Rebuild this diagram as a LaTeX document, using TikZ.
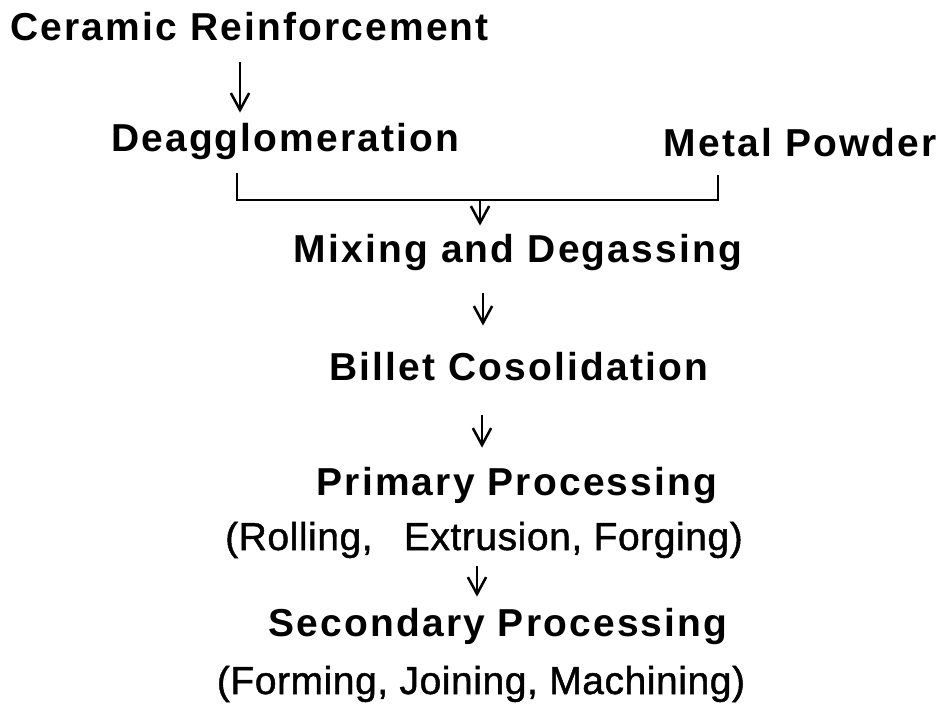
\documentclass[tikz,border=0pt]{standalone}
\usepackage{fontspec}
\setmainfont{Liberation Sans}[LetterSpace=5.6]
\usetikzlibrary{arrows.meta}

\begin{document}
\begin{tikzpicture}[x=0.025cm, y=-0.025cm,
		stage/.style={inner sep=0, text height=20pt, text depth=6pt, anchor=base, font=\bfseries\fontsize{27.7}{32}\selectfont},
		detail/.style={stage, font=\fontsize{27.7}{32}\selectfont\addfontfeature{LetterSpace=1.5, FakeBold=1.2}},
		flow/.style={-{Straight Barb[length=12pt, width=13pt]}, line width=1.8pt},
		bracketline/.style={line width=1.5pt}]
		\useasboundingbox (0,0) rectangle (944,726);
		
		%Nodes
		\node[stage, anchor=base west] (ceramic) at (10,40) {Ceramic Reinforcement};
		\node[stage, anchor=base east] (deagg) at (460,151) {Deagglomeration};
		\node[stage, anchor=base east] (metal) at (937,156) {Metal Powder};
		\node[stage] (mixing) at (518,262) {Mixing and Degassing};
		\node[stage] (billet) at (519,380) {Billet Cosolidation};
		\node[stage] (primary) at (517,495) {Primary Processing};
		\node[detail] (rolling) at (484,550) {(Rolling,\hspace{0.8em}Extrusion, Forging)};
		\node[stage] (secondary) at (498,636) {Secondary Processing};
		\node[detail] (forming) at (481,694) {(Forming, Joining, Machining)};
		
		%Arrow lines
		\coordinate (a1) at (240,0);
		\coordinate (bl) at (237,200);
		\coordinate (br) at (718,200);
		\coordinate (bm) at (480,200);
		\coordinate (a3) at (483,0);
		\coordinate (a4) at (482,0);
		\coordinate (a5) at (477,0);
		
		%Vectors
		\draw[flow, shorten <=9.7pt, shorten >=7.1pt] (ceramic.south -| a1) -- (deagg.north -| a1);
		\draw[bracketline, shorten <=9.7pt, shorten >=7.5pt] (deagg.south -| bl) -- (bl) -- (br) -- (metal.south -| br);
		\draw[flow, shorten >=5.7pt] (bm) -- (mixing.north -| bm);
		\draw[flow, shorten <=16pt, shorten >=18.5pt] (mixing.south -| a3) -- (billet.north -| a3);
		\draw[flow, shorten <=19pt, shorten >=13.5pt] (billet.south -| a4) -- (primary.north -| a4);
		\draw[flow, shorten <=5.4pt, shorten >=7.8pt] (rolling.south -| a5) -- (secondary.north -| a5);
	\end{tikzpicture}
\end{document}
